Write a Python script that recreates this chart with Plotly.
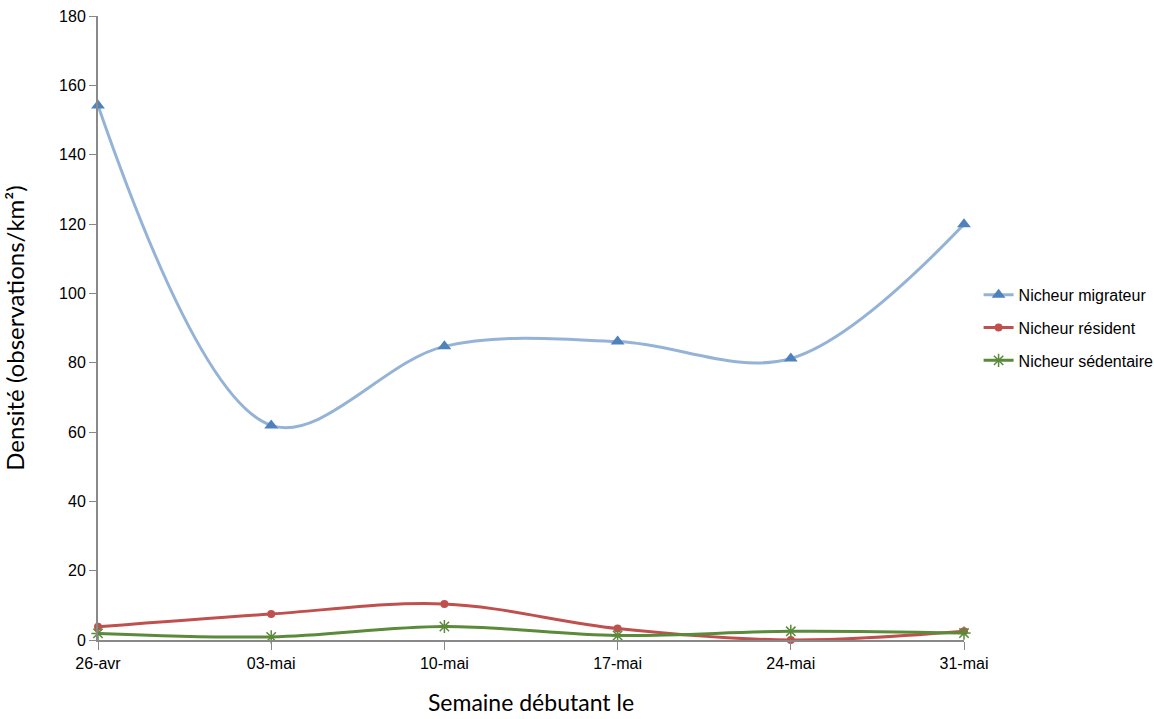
import plotly.graph_objects as go

weeks = ["26-avr", "03-mai", "10-mai", "17-mai", "24-mai", "31-mai"]
migrateur = [154.2, 61.9, 84.7, 86.1, 81.2, 119.9]
resident = [3.8, 7.5, 10.4, 3.3, 0.0, 2.5]
sedentaire = [1.9, 0.9, 3.9, 1.3, 2.5, 2.0]

tick_font = dict(family="Liberation Sans Narrow, Arial Narrow, Liberation Sans", size=16, color="#000000")
title_font = dict(family="Lato, Carlito, Calibri, sans-serif", size=23, color="#000000")

fig = go.Figure()

fig.add_trace(go.Scatter(
    x=weeks, y=migrateur, name="Nicheur migrateur", mode="lines+markers",
    legendgroup="g1",
    line=dict(color="#95B3D7", width=3, shape="spline", smoothing=1),
    marker=dict(symbol="triangle-up", size=12, color="#4F81BD"),
    cliponaxis=False,
))
fig.add_trace(go.Scatter(
    x=weeks, y=resident, name="Nicheur résident", mode="lines+markers",
    legendgroup="g2",
    line=dict(color="#C0504D", width=3, shape="spline", smoothing=1),
    marker=dict(symbol="circle", size=8, color="#C0504D"),
    cliponaxis=False,
))
fig.add_trace(go.Scatter(
    x=weeks, y=sedentaire, name="Nicheur sédentaire", mode="lines+markers",
    legendgroup="g3",
    line=dict(color="#5A8A3A", width=3, shape="spline", smoothing=1),
    marker=dict(symbol="asterisk-open", size=11, line=dict(color="#9BBB59", width=1.5)),
    cliponaxis=False,
))

fig.update_layout(
    width=1154, height=719,
    margin=dict(l=98, r=190, t=16, b=79, autoexpand=False),
    paper_bgcolor="white", plot_bgcolor="white",
    showlegend=True,
    legend=dict(
        xref="container", yref="container",
        x=0.848, y=0.544, xanchor="left", yanchor="middle",
        font=dict(family="Liberation Sans Narrow, Arial Narrow, Liberation Sans", size=16, color="#000000"),
        bgcolor="rgba(0,0,0,0)", itemwidth=30, tracegroupgap=9,
    ),
    xaxis=dict(
        type="category", range=[0, 5], automargin=False,
        showgrid=False, zeroline=False,
        showline=True, linecolor="#898989", linewidth=2,
        ticks="outside", ticklen=8, tickcolor="#898989", tickwidth=1,
        tickfont=tick_font,
        title=dict(text="Semaine débutant le", font=title_font, standoff=24),
    ),
    yaxis=dict(
        range=[0, 180], dtick=20, automargin=False,
        showgrid=False, zeroline=False,
        showline=True, linecolor="#898989", linewidth=2,
        ticks="outside", ticklen=7, tickcolor="#898989", tickwidth=1,
        tickfont=tick_font,
        title=dict(text="Densité (observations/km²)", font=dict(family="Lato, Carlito, Calibri, sans-serif", size=24, color="#000000"), standoff=28),
    ),
)

fig.write_html("out.html")
